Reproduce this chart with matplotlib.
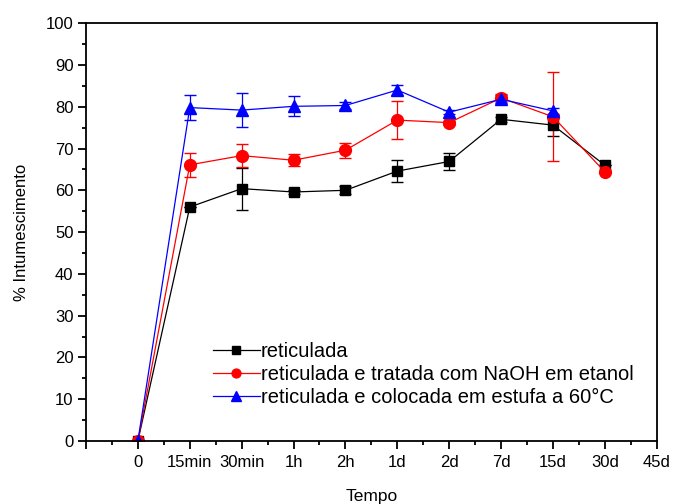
import matplotlib
matplotlib.use('Agg')
import matplotlib.pyplot as plt
from matplotlib.ticker import MultipleLocator

plt.rcParams['font.family'] = ['Liberation Sans', 'DejaVu Sans']

tick_labels = ['', '0', '15min', '30min', '1h', '2h', '1d', '2d', '7d', '15d', '30d', '45d']

# position index of each time point (0 = "0", 1 = "15min", ...)
x_ret = [0, 1, 2, 3, 4, 5, 6, 7, 8, 9]
y_ret = [0, 56.0, 60.4, 59.6, 60.0, 64.6, 66.9, 77.0, 75.6, 66.0]
e_ret = [0, 0, 5.0, 0.5, 1.0, 2.6, 2.0, 0.6, 2.5, 0]

x_naoh = [0, 1, 2, 3, 4, 5, 6, 7, 8, 9]
y_naoh = [0, 66.1, 68.3, 67.2, 69.6, 76.8, 76.2, 82.1, 77.6, 64.4]
e_naoh = [0, 2.8, 2.7, 1.5, 1.8, 4.6, 0.5, 1.0, 10.6, 0]

x_est = [0, 1, 2, 3, 4, 5, 6, 7, 8]
y_est = [0, 79.8, 79.2, 80.1, 80.3, 84.0, 78.7, 81.8, 79.0]
e_est = [0, 2.9, 4.0, 2.4, 0.8, 1.3, 0.5, 1.0, 0.8]

fig = plt.figure(figsize=(6.75, 5.04), dpi=100)
ax = fig.add_axes([0.1274, 0.125, 0.8456, 0.829])

c1 = ax.errorbar(x_ret, y_ret, yerr=e_ret, color='black', marker='s', markersize=7,
                 linewidth=0.9, elinewidth=0.9, capsize=4)
c2 = ax.errorbar(x_naoh, y_naoh, yerr=e_naoh, color='red', marker='o', markersize=8.5,
                 linewidth=0.9, elinewidth=0.9, capsize=4)
c3 = ax.errorbar(x_est, y_est, yerr=e_est, color='blue', marker='^', markersize=9,
                 linewidth=0.9, elinewidth=0.9, capsize=4)

ax.set_xlim(-1, 10)
ax.set_ylim(0, 100)
ax.set_xticks(range(-1, 11))
ax.set_xticklabels(tick_labels)
ax.xaxis.set_minor_locator(MultipleLocator(0.5))
ax.yaxis.set_major_locator(MultipleLocator(10))
ax.yaxis.set_minor_locator(MultipleLocator(5))

ax.tick_params(axis='both', which='major', direction='out', length=6, width=1.3,
               labelsize=12, top=False, right=False)
ax.tick_params(axis='both', which='minor', direction='out', length=3, width=1.3,
               top=False, right=False)
ax.tick_params(axis='x', pad=4)
ax.tick_params(axis='y', pad=3)
for s in ax.spines.values():
    s.set_linewidth(1.3)

ax.set_xlabel('Tempo', fontsize=12.5, labelpad=14)
ax.set_ylabel('% Intumescimento', fontsize=12, labelpad=12)

ax.legend([c1.lines[0], c2.lines[0], c3.lines[0]],
          ['reticulada', 'reticulada e tratada com NaOH em etanol',
           'reticulada e colocada em estufa a 60°C'],
          loc='upper left', bbox_to_anchor=(0.222, 0.238), frameon=False,
          fontsize=14.5, handlelength=2.35, handletextpad=0.05, labelspacing=0.2,
          borderaxespad=0, borderpad=0, markerscale=0.75)

fig.savefig('out.png', dpi=100)
